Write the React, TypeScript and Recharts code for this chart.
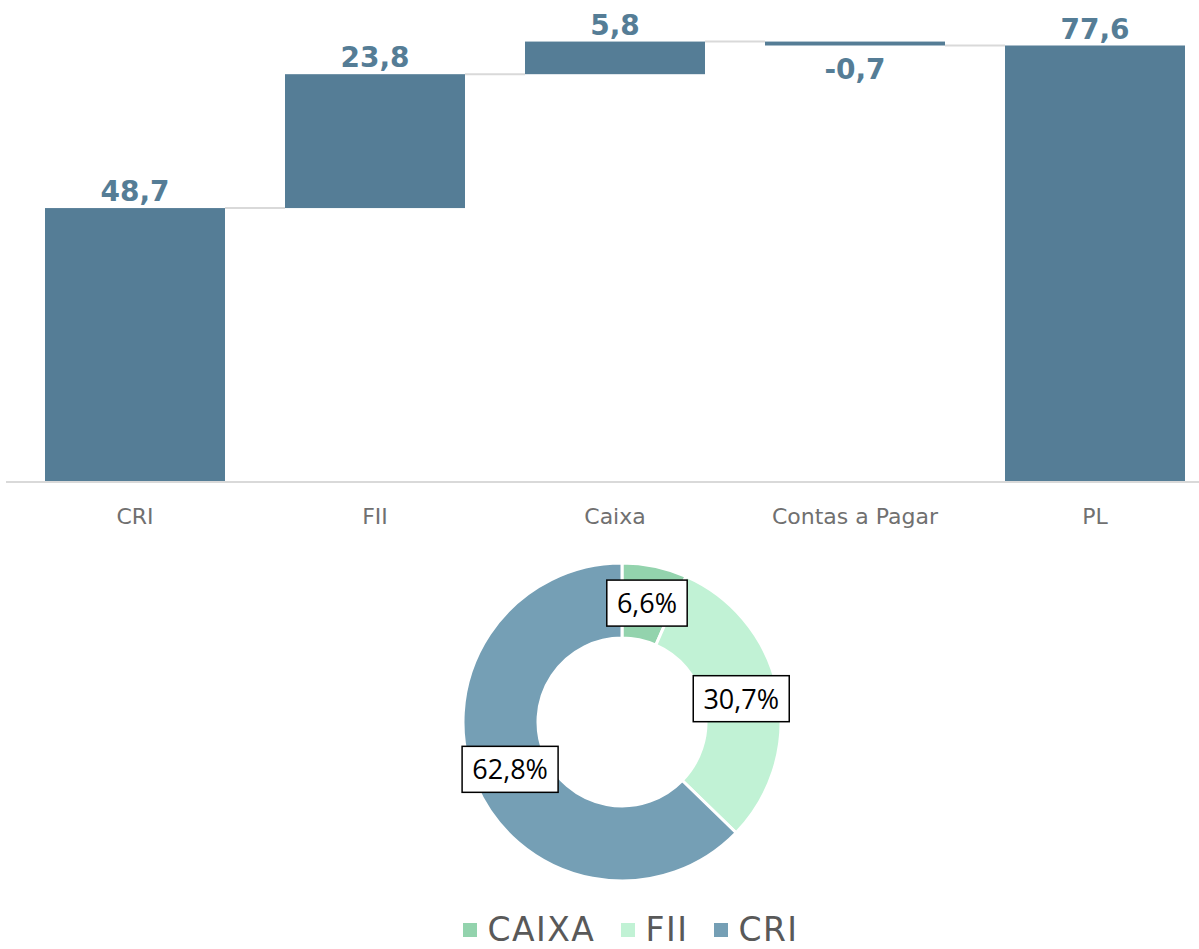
import React from 'react';
import {
  BarChart, Bar, XAxis, YAxis, PieChart, Pie, Cell, Legend,
} from 'recharts';

const categories = ['CRI', 'FII', 'Caixa', 'Contas a Pagar', 'PL'];
const values = [48.7, 23.8, 5.8, -0.7, 77.6];
const isTotal = [false, false, false, false, true];

const pieNames = ['CAIXA', 'FII', 'CRI'];
const pieValues = [6.6, 30.7, 62.8];
const pieColors = ['#93D3AD', '#C1F2D5', '#759FB5'];

const BAR_COLOR = '#557D96';
const fmt = (v: number) => v.toFixed(1).replace('.', ',');

// stacked waterfall: invisible base + visible step
const waterfallData = (() => {
  let running = 0;
  return categories.map((name, i) => {
    const v = values[i];
    if (isTotal[i]) {
      running = v;
      return { name, base: 0, size: v };
    }
    const start = running;
    const end = running + v;
    running = end;
    return { name, base: Math.min(start, end), size: Math.abs(v) };
  });
})();

const pieData = pieNames.map((name, i) => ({ name, value: pieValues[i] }));

const WaterfallBar = (props: any) => {
  const { x, y, width, height, index } = props;
  const v = values[index];
  const level = v >= 0 ? y : y + height;
  const gap = width / 3;
  const last = index === values.length - 1;
  return (
    <g>
      <rect x={x} y={y} width={width} height={height} fill={BAR_COLOR} />
      {!last && (
        <line x1={x + width} x2={x + width + gap} y1={level} y2={level} stroke="#d9d9d9" strokeWidth={2} />
      )}
      <text
        x={x + width / 2}
        y={v >= 0 ? y - 7 : y + height + 33}
        textAnchor="middle"
        fill={BAR_COLOR}
        fontFamily="DejaVu Sans"
        fontWeight="bold"
        fontSize={28}
      >
        {fmt(v)}
      </text>
    </g>
  );
};

const CategoryTick = ({ x, y, payload }: any) => (
  <text x={x} y={y + 34} textAnchor="middle" fill="#707070" fontFamily="DejaVu Sans" fontSize={22}>
    {payload.value}
  </text>
);

const RAD = Math.PI / 180;
const BoxLabel = (props: any) => {
  const { cx, cy, midAngle, innerRadius, outerRadius, index } = props;
  const r = (innerRadius + outerRadius) / 2;
  const lx = cx + r * Math.cos(-midAngle * RAD);
  const ly = cy + r * Math.sin(-midAngle * RAD);
  const text = `${fmt(pieValues[index])}%`;
  const w = text.length * 15.6 + 18;
  const h = 46;
  return (
    <g>
      <rect x={lx - w / 2} y={ly - h / 2} width={w} height={h} fill="#fff" stroke="#000" strokeWidth={1.5} />
      <text x={lx} y={ly + 10} textAnchor="middle" fill="#000" fontFamily="Open Sans" fontSize={27}>
        {text}
      </text>
    </g>
  );
};

const LegendContent = () => (
  <div style={{ display: 'flex', justifyContent: 'center', gap: 26, fontFamily: 'DejaVu Sans', fontSize: 33, letterSpacing: 1.5, color: '#595959', lineHeight: '38px' }}>
    {pieNames.map((n, i) => (
      <div key={n} style={{ display: 'flex', alignItems: 'center' }}>
        <span style={{ display: 'inline-block', width: 14, height: 14, background: pieColors[i], marginRight: 10 }} />
        {n}
      </div>
    ))}
  </div>
);

export default function App() {
  return (
    <div style={{ position: 'fixed', left: 0, top: 0, width: 1199, height: 949, overflow: 'hidden', background: '#fff' }}>
      <div style={{ position: 'absolute', left: 0, top: 0 }}>
        <BarChart
          width={1240}
          height={540}
          data={waterfallData}
          margin={{ top: 32, right: 20, bottom: 0, left: 6 }}
          barCategoryGap="12.5%"
        >
          <XAxis
            dataKey="name"
            axisLine={{ stroke: '#d9d9d9', strokeWidth: 2 }}
            tickLine={false}
            height={58}
            padding={{ left: 9, right: 5 }}
            tick={<CategoryTick />}
            interval={0}
          />
          <YAxis hide domain={[0, 80]} />
          <Bar dataKey="base" stackId="w" fill="transparent" isAnimationActive={false} />
          <Bar dataKey="size" stackId="w" shape={<WaterfallBar />} isAnimationActive={false} />
        </BarChart>
      </div>
      <div style={{ position: 'absolute', left: 0, top: 540 }}>
        <PieChart width={1199} height={409}>
          <Pie
            data={pieData}
            dataKey="value"
            cx={617}
            cy={177}
            innerRadius={84}
            outerRadius={159}
            startAngle={90}
            endAngle={-270}
            stroke="#fff"
            strokeWidth={3}
            label={BoxLabel}
            labelLine={false}
            isAnimationActive={false}
          >
            {pieData.map((d, i) => (
              <Cell key={d.name} fill={pieColors[i]} />
            ))}
          </Pie>
          <Legend
            content={<LegendContent />}
            wrapperStyle={{ position: 'absolute', top: 371, left: 0, width: 1262 }}
          />
        </PieChart>
      </div>
    </div>
  );
}
